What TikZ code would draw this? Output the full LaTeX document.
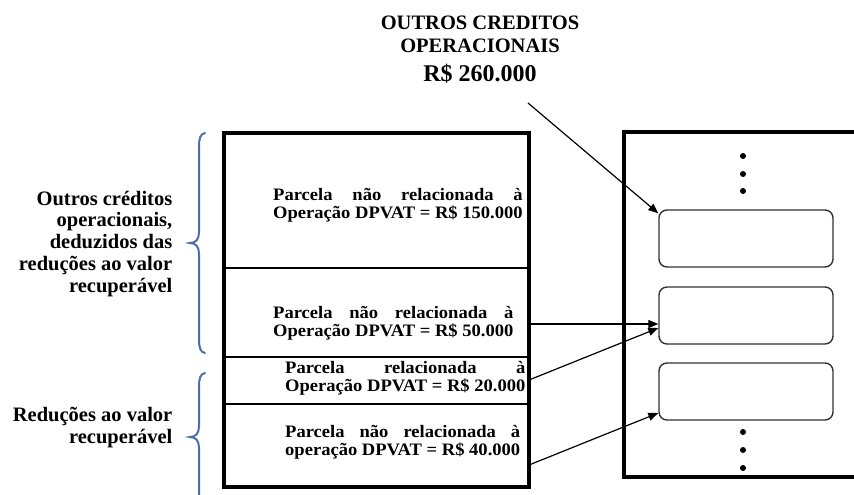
\documentclass[tikz,border=0pt]{standalone}
\usepackage{fontspec}
\setmainfont{Liberation Serif}
\newfontfamily\boxfont{Liberation Serif}[FakeStretch=1.06]
\usetikzlibrary{arrows.meta}
\definecolor{bracecol}{RGB}{74,112,168}
\definecolor{rboxcol}{RGB}{50,50,50}
\newcommand\rl[1]{\hbox to 0pt{\hss #1}}
\newcommand\cl[1]{\hbox to 0pt{\hss #1\hss}}
\newcommand\twoline[2]{\setbox0=\hbox{#2}\vbox{\hbox to \wd0{#1}\box0}}
\begin{document}
\begin{tikzpicture}[x=1pt,y=-1pt,
  bigbox/.style={draw, line width=4pt, inner sep=0pt},
  rbox/.style={draw=rboxcol, line width=1.4pt, rounded corners=8pt, minimum width=174pt, minimum height=57pt, inner sep=0pt},
  divider/.style={line width=1.3pt},
  arr/.style={-{Triangle[length=10pt,width=8pt]}, line width=1.2pt},
  brace/.style={draw=bracecol, line width=2pt, line cap=round},
  dot/.style={circle, fill=black, inner sep=0pt, minimum size=6pt},
  txt/.style={inner sep=0pt, font=\boxfont\bfseries\fontsize{17.5}{18}\selectfont, anchor=base west},
  side/.style={inner sep=0pt, font=\bfseries\fontsize{20.5}{21.7}\selectfont, anchor=base east}]
\useasboundingbox (0,0) rectangle (854,495);
\fill[white] (0,0) rectangle (854,495);

% title
\node[inner sep=0pt, anchor=base, font=\bfseries] (title) at (480,81.7)
  {\vbox{\fontsize{20.5}{23.5}\selectfont\cl{OUTROS CREDITOS}\cl{OPERACIONAIS}\fontsize{24}{29}\selectfont\cl{R\$ 260.000}}};

% left stacked box
\node[bigbox, minimum width=305pt, minimum height=354pt] (leftbox) at (376.5,310) {};
\draw[divider] (224,268) -- (529,268);
\draw[divider] (224,357) -- (529,357);
\draw[divider] (224,404) -- (529,404);

\node[txt] (p1) at (273,218.5) {\twoline{Parcela\hfill não\hfill relacionada\hfill à}{Operação DPVAT = R\$ 150.000}};
\node[txt] (p2) at (273,336) {\twoline{Parcela\hfill não\hfill relacionada\hfill à}{Operação DPVAT = R\$ 50.000}};
\node[txt] (p3) at (285,391) {\twoline{Parcela\hfill relacionada\hfill à}{Operação DPVAT = R\$ 20.000}};
\node[txt] (p4) at (285,455) {\twoline{Parcela\hfill não\hfill relacionada\hfill à}{operação DPVAT = R\$ 40.000}};

% right box
\node[bigbox, minimum width=236pt, minimum height=345pt] (rightbox) at (742,304.5) {};
\node[rbox] (r1) at (746,238.5) {};
\node[rbox] (r2) at (746,315.5) {};
\node[rbox] (r3) at (746,391.5) {};
\node[dot] (d1) at (743,156) {};
\node[dot] (d2) at (743,174) {};
\node[dot] (d3) at (743,191) {};
\node[dot] (d4) at (743,432) {};
\node[dot] (d5) at (743,450) {};
\node[dot] (d6) at (743,468) {};

% side labels
\node[side] (s1) at (173,292) {\vbox{\rl{Outros créditos}\rl{operacionais,}\rl{deduzidos das}\rl{reduções ao valor}\rl{recuperável}}};
\node[side] (s2) at (173,443) {\vbox{\rl{Reduções ao valor}\rl{recuperável}}};

% braces
\draw[brace] (205,133) .. controls (200,134) and (199,139) .. (199,147) -- (199,232)
  .. controls (199,239) and (196,243) .. (190,243)
  .. controls (196,243) and (199,247) .. (199,254) -- (199,339)
  .. controls (199,347) and (200,352) .. (205,353);
\draw[brace] (205,373) .. controls (200,374) and (199,379) .. (199,387) -- (199,426)
  .. controls (199,433) and (196,437) .. (190,437)
  .. controls (196,437) and (199,441) .. (199,448) -- (199,510);

% arrows
\coordinate (a1) at (528,103);
\coordinate (a2) at (529,324);
\coordinate (a3) at (529,380);
\coordinate (a4) at (529,465);
\draw[arr] (a1) -- ([yshift=-4pt]r1.north west);
\draw[arr] (a2) -- ([yshift=-8.5pt]r2.west);
\draw[arr] (a3) -- ([yshift=-12.5pt]r2.west);
\draw[arr] (a4) -- ([yshift=-21.5pt]r3.west);
\end{tikzpicture}
\end{document}
